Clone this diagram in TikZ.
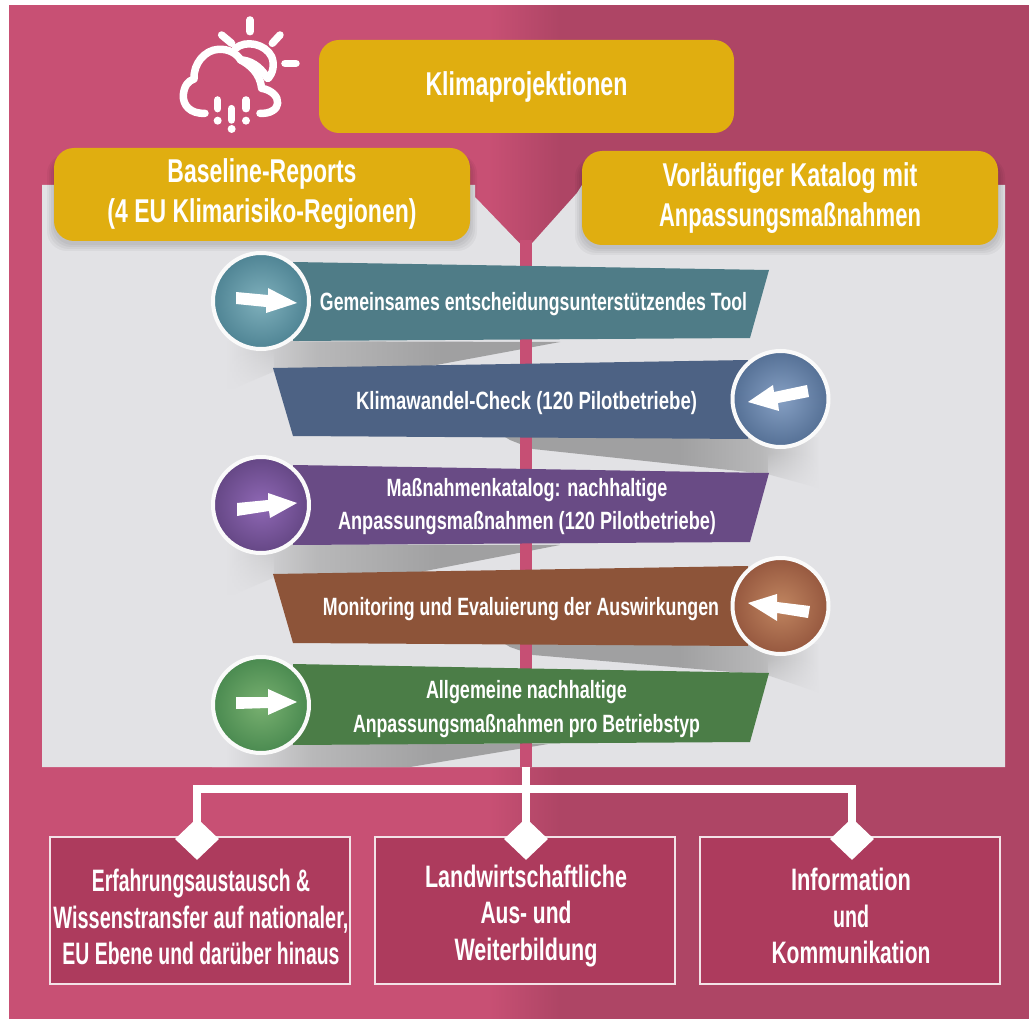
\documentclass[tikz,border=0pt]{standalone}
\usepackage{graphicx}
\usepackage{fontspec}
\setmainfont{Liberation Sans}
\usetikzlibrary{shapes.geometric,fadings}
\definecolor{pinkA}{HTML}{C85074}
\definecolor{pinkB}{HTML}{AE4565}
\definecolor{panelgray}{HTML}{E2E2E5}
\definecolor{linepink}{HTML}{C64F74}
\definecolor{gold}{HTML}{E0AE10}
\definecolor{boxrose}{HTML}{AD3B5D}
\definecolor{shadowA}{HTML}{B8B8B9}
\definecolor{shadowB}{HTML}{A0A0A1}
\definecolor{tealband}{HTML}{4F7C87}
\definecolor{blueband}{HTML}{4D6284}
\definecolor{purpleband}{HTML}{694B85}
\definecolor{brownband}{HTML}{8D5439}
\definecolor{greenband}{HTML}{4B7D47}
\definecolor{tealin}{HTML}{7FB0BC}\definecolor{tealout}{HTML}{4F8494}
\definecolor{bluein}{HTML}{86A0C4}\definecolor{blueout}{HTML}{557095}
\definecolor{purplein}{HTML}{8F68B5}\definecolor{purpleout}{HTML}{654785}
\definecolor{brownin}{HTML}{C08560}\definecolor{brownout}{HTML}{96583F}
\definecolor{greenin}{HTML}{78B070}\definecolor{greenout}{HTML}{4A8A50}
\pgfdeclarehorizontalshading{bgshade}{100bp}{color(0bp)=(pinkA); color(48.5bp)=(pinkA); color(52bp)=(pinkB); color(100bp)=(pinkB)}
\pgfdeclarehorizontalshading{leftshade}{100bp}{color(0bp)=(panelgray); color(27bp)=(panelgray); color(40bp)=(shadowA); color(58bp)=(shadowB); color(100bp)=(shadowB)}
\pgfdeclarehorizontalshading{rightshade}{100bp}{color(0bp)=(shadowB); color(52bp)=(shadowB); color(65bp)=(shadowA); color(74bp)=(panelgray); color(100bp)=(panelgray)}
\newcommand{\fitw}[2]{\resizebox{#1pt}{\height}{#2}}
\newcommand{\softshadow}[4]{%
  \foreach \g in {7,5,3,1}{
    \fill[black,opacity=0.04,rounded corners=20pt] (#1-\g,#2+6) rectangle (#3+\g,#4+\g+3);
  }}
\tikzset{
  goldbox/.style={fill=gold,rounded corners=20pt,text=white,align=center,inner sep=0pt,font=\bfseries\fontsize{33}{40}\selectfont},
  bandlabel/.style={text=white,align=center,inner sep=0pt,font=\bfseries\fontsize{25}{33.5}\selectfont},
  rosebox/.style={fill=boxrose,draw=white!85!boxrose,line width=1.5pt,minimum width=300pt,minimum height=147pt},
  boxlabel/.style={text=white,align=center,inner sep=0pt,font=\bfseries\fontsize{31}{36.5}\selectfont},
  roundel/.style={circle,draw=white!96!gray,line width=4pt,minimum size=96pt,inner sep=0pt},
  joint/.style={diamond,fill=white,minimum width=44pt,minimum height=42pt,inner sep=0pt,aspect=1},
  conn/.style={draw=white,line width=8pt},
  iconline/.style={draw=white,line width=7.5pt,line cap=round,line join=round},
  pointer/.style={fill=white},
  softener/.style={fill=panelgray,path fading=north}
}
\begin{document}
\begin{tikzpicture}[x=1pt,y=-1pt]
\useasboundingbox (0,0) rectangle (1029,1019);
\fill[white] (0,0) rectangle (1029,1019);
\shade[shading=bgshade] (9,6) rectangle (1029,1019);

% panel with funnel notch
\fill[panelgray] (42,185) -- (475,185) -- (475,197) -- (526,250) -- (577,193) -- (582,185) -- (1005,185) -- (1005,767) -- (42,767) -- cycle;

% shadows
\shade[shading=leftshade] (212,341) -- (560,342) -- (420,368) -- (273,372) -- (235,388) -- (212,388) -- cycle;
\shade[shading=rightshade] (505,437) -- (826,437) -- (826,490) -- (767,474) -- (533,449) -- (510,440) -- cycle;
\shade[shading=leftshade] (212,544) -- (560,545) -- (420,572) -- (273,578) -- (235,594) -- (212,594) -- cycle;
\shade[shading=rightshade] (505,644) -- (826,644) -- (826,695) -- (767,675) -- (533,655) -- (510,647) -- cycle;
\shade[shading=leftshade] (212,744) -- (548,744) -- (410,767) -- (212,767) -- cycle;
\fill[softener] (205,350) rectangle (274,392);
\fill[softener] (205,553) rectangle (274,598);
\fill[softener] (768,452) rectangle (835,495);
\fill[softener] (768,658) rectangle (835,700);

% central line
\fill[linepink] (520,240) rectangle (532,767);

% gold boxes
\softshadow{54}{148}{470}{241}
\softshadow{582}{151}{998}{245}
\node[goldbox,minimum width=415pt,minimum height=93pt] (klima) at (526.5,86.5) {\fitw{202}{Klimaprojektionen}};
\node[goldbox,minimum width=416pt,minimum height=93pt] (base) at (262,194.5) {\fitw{189}{Baseline-Reports}\\\fitw{309}{(4 EU Klimarisiko-Regionen)}};
\node[goldbox,minimum width=416pt,minimum height=94pt] (vorl) at (790,198) {\fitw{255}{Vorläufiger Katalog mit}\\\fitw{262}{Anpassungsmaßnahmen}};

% bands
\fill[tealband] (293,262) -- (769,270) -- (750,338) -- (293,341) -- cycle;
\fill[blueband] (273,368) -- (748,360) -- (748,439) -- (293,436) -- cycle;
\fill[purpleband] (293,465) -- (769,473) -- (750,542) -- (293,545) -- cycle;
\fill[brownband] (273,574) -- (748,566) -- (748,646) -- (293,643) -- cycle;
\fill[greenband] (293,664) -- (769,673) -- (750,742) -- (293,745) -- cycle;

% roundels
\node[roundel,inner color=tealin,outer color=tealout] (c1) at (261,301) {};
\node[roundel,inner color=bluein,outer color=blueout] (c2) at (780.5,399) {};
\node[roundel,inner color=purplein,outer color=purpleout] (c3) at (261,505) {};
\node[roundel,inner color=brownin,outer color=brownout] (c4) at (780.5,606) {};
\node[roundel,inner color=greenin,outer color=greenout] (c5) at (261,705) {};

% arrows inside roundels
\fill[pointer] (236,292) -- (268,295) -- (268,288) -- (297,303) -- (266,313) -- (266,307) -- (236,304) -- cycle;
\fill[pointer] (748,402) -- (773,385) -- (774,392) -- (807,385) -- (809,397) -- (778,403) -- (779,411) -- cycle;
\fill[pointer] (237,503) -- (268,500) -- (268,493) -- (297,503) -- (270,518) -- (269,511) -- (237,516) -- cycle;
\fill[pointer] (748,603) -- (777,594) -- (777,602) -- (810,606) -- (808,618) -- (777,613) -- (777,621) -- cycle;
\fill[pointer] (236,697) -- (268,697) -- (268,689) -- (297,702) -- (268,715) -- (268,708) -- (236,709) -- cycle;

% band labels
\node[bandlabel] (t1) at (533.5,304) {\fitw{427}{Gemeinsames entscheidungsunterstützendes Tool}};
\node[bandlabel] (t2) at (526.5,403) {\fitw{341}{Klimawandel-Check (120 Pilotbetriebe)}};
\node[bandlabel] (t3) at (527,506.5) {\fitw{281}{Maßnahmenkatalog: nachhaltige}\\\fitw{378}{Anpassungsmaßnahmen (120 Pilotbetriebe)}};
\node[bandlabel] (t4) at (521,609) {\fitw{396}{Monitoring und Evaluierung der Auswirkungen}};
\node[bandlabel] (t5) at (526.5,709) {\fitw{201}{Allgemeine nachhaltige}\\\fitw{347}{Anpassungsmaßnahmen pro Betriebstyp}};

% bottom boxes
\node[rosebox] (b1) at (200,910.5) {};
\node[rosebox] (b2) at (525,910.5) {};
\node[rosebox] (b3) at (850,910.5) {};
\node[boxlabel] (l1) at (201,917) {\fitw{218}{Erfahrungsaustausch \&}\\\fitw{295}{Wissenstransfer auf nationaler,}\\\fitw{277}{EU Ebene und darüber hinaus}};
\node[boxlabel] (l2) at (526,916) {\fitw{202}{Landwirtschaftliche}\\\fitw{91}{Aus- und}\\\fitw{143}{Weiterbildung}};
\node[boxlabel] (l3) at (851,916) {\fitw{120}{Information}\\\fitw{36}{und}\\\fitw{159}{Kommunikation}};

% connectors
\node[joint] (d1) at (197,839) {};
\node[joint] (d2) at (526,839) {};
\node[joint] (d3) at (852,839) {};
\coordinate (panelfoot) at (526,767);
\coordinate (hub) at (526,788.5);
\draw[conn] (d1.center) |- (hub) -| (d3.center);
\draw[conn] (panelfoot) -- (d2.center);

% weather icon
\begin{scope}[shift={(170,10)},x=0.3333pt,y=-0.3333pt]
\draw[iconline] (105,310) .. controls (60,312) and (38,285) .. (40,255) .. controls (42,228) and (55,212) .. (72,207) .. controls (70,160) and (105,120) .. (145,118) .. controls (175,116) and (200,130) .. (212,150) .. controls (240,165) and (270,190) .. (275,235) .. controls (305,240) and (325,260) .. (323,280) .. controls (322,298) and (300,312) .. (270,310);
\draw[iconline] (197,115) .. controls (225,90) and (285,100) .. (305,140) .. controls (315,165) and (308,190) .. (295,205);
\draw[iconline] (212,150) .. controls (235,150) and (270,165) .. (292,205);
\draw[iconline] (240,30) -- (240,65);
\draw[iconline] (155,75) -- (185,100);
\draw[iconline] (330,75) -- (307,100);
\draw[iconline] (345,160) -- (378,160);
\draw[iconline] (143,270) -- (143,296);
\draw[iconline] (228,270) -- (228,296);
\draw[iconline] (185,296) -- (185,330);
\fill[white] (143,332) circle[radius=12];
\fill[white] (228,332) circle[radius=12];
\fill[white] (185,357) circle[radius=12];
\end{scope}
\end{tikzpicture}
\end{document}
